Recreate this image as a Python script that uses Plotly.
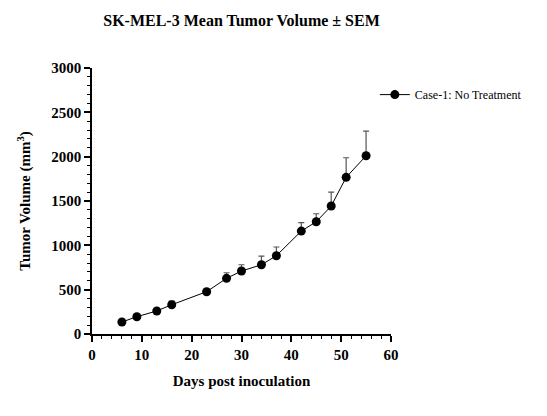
import plotly.graph_objects as go

# mean tumour volume and SEM
days = [6, 9, 13, 16, 23, 27, 30, 34, 37, 42, 45, 48, 51, 55]
mean_volume = [135, 195, 260, 330, 477, 628, 710, 781, 883, 1161, 1266, 1443, 1767, 2010]
sem = [12, 15, 18, 40, 27, 63, 71, 98, 98, 94, 90, 158, 221, 279]

serif = "Liberation Serif"

fig = go.Figure()
fig.add_trace(
    go.Scatter(
        x=days,
        y=mean_volume,
        mode='lines+markers',
        name='Case-1: No Treatment',
        line=dict(color='black', width=1),
        marker=dict(color='black', size=9),
        error_y=dict(
            type='data',
            array=sem,
            arrayminus=[0] * len(sem),
            symmetric=False,
            color='#555555',
            thickness=1.2,
            width=3,
        ),
    )
)

axis_style = dict(
    showline=True,
    linecolor='black',
    linewidth=1.5,
    ticks='outside',
    ticklen=6,
    tickwidth=1.5,
    tickcolor='black',
    showgrid=False,
    zeroline=False,
    tickfont=dict(family=serif, size=15, color='black', weight='bold'),
)

fig.update_xaxes(
    range=[0, 60],
    dtick=10,
    minor=dict(dtick=2, ticks='outside', ticklen=3, tickcolor='black', tickwidth=1),
    title=dict(text='Days post inoculation',
               font=dict(family=serif, size=15, color='black', weight='bold'),
               standoff=14),
    **axis_style,
)
fig.update_yaxes(
    range=[0, 3000],
    dtick=500,
    minor=dict(dtick=100, ticks='outside', ticklen=3, tickcolor='black', tickwidth=1),
    title=dict(text='Tumor Volume (mm<sup>3</sup>)',
               font=dict(family=serif, size=15, color='black', weight='bold'),
               standoff=17),
    **axis_style,
)

# the page body adds an 8px offset at top/left, so the figure is 8px smaller
fig.update_layout(
    width=539,
    height=408,
    margin=dict(l=84, r=156, t=60, b=82),
    plot_bgcolor='white',
    paper_bgcolor='white',
    title=dict(
        text='<b>SK-MEL-3 Mean Tumor Volume ± SEM</b>',
        font=dict(family=serif, size=16, color='black'),
        x=0.5,
        xref='paper',
        xanchor='center',
        y=0.97,
        yanchor='middle',
    ),
    showlegend=True,
    legend=dict(
        x=0.946,
        y=0.9,
        xanchor='left',
        yanchor='middle',
        font=dict(family=serif, size=12, color='black'),
        bgcolor='rgba(0,0,0,0)',
    ),
)

fig.write_html("out.html")
